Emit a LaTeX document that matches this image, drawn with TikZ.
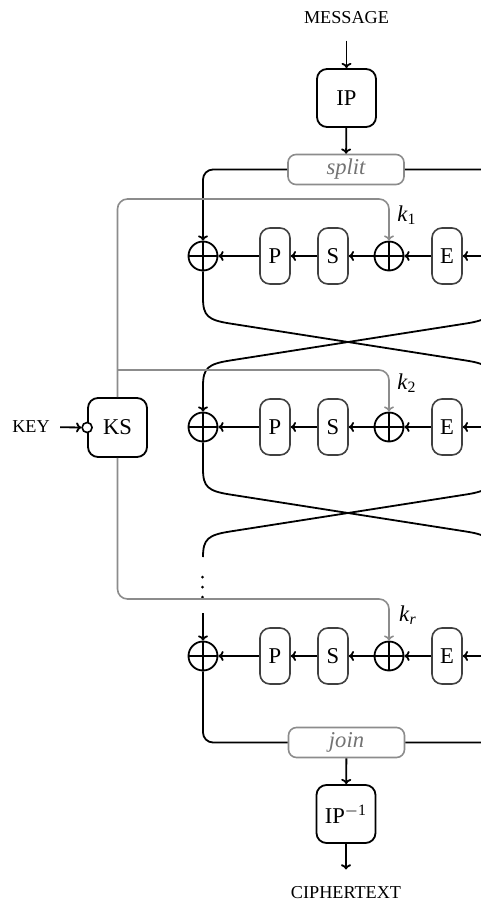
\documentclass[tikz,border=0pt]{standalone}
\usepackage{fontspec}
\setmainfont{Liberation Serif}
\usetikzlibrary{arrows.meta}
\tikzset{
  tip/.style={-{To[length=2.6pt,width=5pt]}},
  wire/.style={line width=0.9pt},
  arr/.style={wire, tip},
  keyl/.style={draw=black!45, line width=0.8pt, rounded corners=5pt},
  keyarr/.style={keyl, tip},
  lbl/.style={inner sep=0pt, font=\fontsize{9.1}{11}\selectfont},
  klbl/.style={inner sep=0pt, font=\fontsize{11.3}{13}\selectfont},
  bigbox/.style={draw, line width=0.9pt, rounded corners=5pt, minimum width=29.5pt,
    minimum height=29pt, inner sep=0pt, font=\fontsize{11.3}{13}\selectfont},
  fbox/.style={draw=black!75, line width=0.8pt, rounded corners=5pt, minimum width=15pt,
    minimum height=28pt, inner sep=0pt, font=\fontsize{11.3}{13}\selectfont},
  sjbox/.style={draw=black!45, fill=white, line width=0.8pt, rounded corners=4pt, minimum width=58pt,
    minimum height=15pt, inner sep=0pt, text=black!55, font=\fontsize{11.3}{13}\selectfont\itshape},
  xorn/.style={circle, draw, line width=0.9pt, minimum size=14.5pt, inner sep=0pt,
    path picture={\draw[line width=0.9pt] (path picture bounding box.north) -- (path picture bounding box.south)
      (path picture bounding box.west) -- (path picture bounding box.east);}},
}
\begin{document}
\begin{tikzpicture}[x=0.5pt,y=-0.5pt]
\useasboundingbox (0,0) rectangle (481,901);
\clip (0,0) rectangle (481,901);

% top
\node[lbl] (msg) at (346.5,18) {MESSAGE};
\node[bigbox] (ip) at (346.5,98) {IP};
\node[sjbox] (split) at (346,169.5) {split};

% rounds
\foreach \i/\r in {1/256,2/427,3/656}{
  \node[xorn] (X\i a) at (203,\r) {};
  \node[fbox] (P\i) at (275,\r) {P};
  \node[fbox] (S\i) at (333,\r) {S};
  \node[xorn] (X\i b) at (389,\r) {};
  \node[fbox] (E\i) at (447,\r) {E};
  \coordinate (R\i) at (493,\r);
}
\node[klbl] (k1) at (407,215) {\textit{k}\textsubscript{1}};
\node[klbl] (k2) at (407,383) {\textit{k}\textsubscript{2}};
\node[klbl] (kr) at (408,615) {\textit{k}\textsubscript{\textit{r}}};

% key schedule
\node[bigbox, minimum height=29.5pt] (ks) at (117.5,427.5) {KS};
\node[circle, draw, fill=white, line width=0.8pt, minimum size=5pt, inner sep=0pt] (kc) at (ks.west) {};
\node[lbl] (key) at (31,427) {KEY};

% bottom
\node[sjbox] (join) at (346.5,742.5) {join};
\node[bigbox] (ipinv) at (346,814) {IP\textsuperscript{$-$1}};
\node[lbl] (ct) at (346,893) {CIPHERTEXT};

% coordinates of the crossings
\coordinate (L1s) at (203,298); \coordinate (R1s) at (493,298);
\coordinate (L1e) at (203,386); \coordinate (R1e) at (493,386);
\coordinate (L2s) at (203,469); \coordinate (R2s) at (493,469);
\coordinate (L2e) at (203,557); \coordinate (R2e) at (493,557);
\coordinate (L3s) at (203,613); \coordinate (R3s) at (493,613);

% main arrows
\draw[arr, shorten <=8pt] (msg) -- (ip);
\draw[arr] (ip) -- (split);
\draw[arr] (join) -- (ipinv);
\draw[arr, shorten >=8.5pt] (ipinv) -- (ct);
\draw[arr, shorten <=5pt] (key) -- (kc);

% round data paths
\foreach \i in {1,2,3}{
  \draw[arr] (R\i) -- (E\i);
  \draw[arr] (E\i) -- (X\i b);
  \draw[arr] (X\i b) -- (S\i);
  \draw[arr] (S\i) -- (P\i);
  \draw[arr] (P\i) -- (X\i a);
}

% Feistel wires
\draw[arr, rounded corners=5pt] (split.west) -| (X1a.north);
\draw[wire, rounded corners=5pt] (split.east) -| (R1s);
\draw[wire] (X1a.south) -- (L1s)
  .. controls (203,316) and (208,320) .. (230,323.5) -- (466,360.5)
  .. controls (488,364) and (493,368) .. (R1e) -- (R2s)
  .. controls (493,487) and (488,491) .. (466,494.5) -- (230,531.5)
  .. controls (208,535) and (203,539) .. (L2e);
\draw[arr] (R1s)
  .. controls (493,316) and (488,320) .. (466,323.5) -- (230,360.5)
  .. controls (208,364) and (203,368) .. (L1e) -- (X2a.north);
\draw[wire] (X2a.south) -- (L2s)
  .. controls (203,487) and (208,491) .. (230,494.5) -- (466,531.5)
  .. controls (488,535) and (493,539) .. (R2e);
\fill (202.5,577) circle (0.75pt) (202.5,587) circle (0.75pt) (202.5,597) circle (0.75pt);
\draw[arr] (L3s) -- (X3a.north);
\draw[wire, rounded corners=5pt] (X3a.south) |- (join.west);
\draw[wire, rounded corners=5pt] (R3s) |- (join.east);

% key lines
\coordinate (g1) at (389,199);
\coordinate (g2) at (117,370);
\coordinate (g3) at (389,599);
\draw[keyarr] (ks.north) |- (g1) -- (X1b.north);
\draw[keyarr] (g2) -| (X2b.north);
\draw[keyarr] (ks.south) |- (g3) -- (X3b.north);
\end{tikzpicture}
\end{document}
